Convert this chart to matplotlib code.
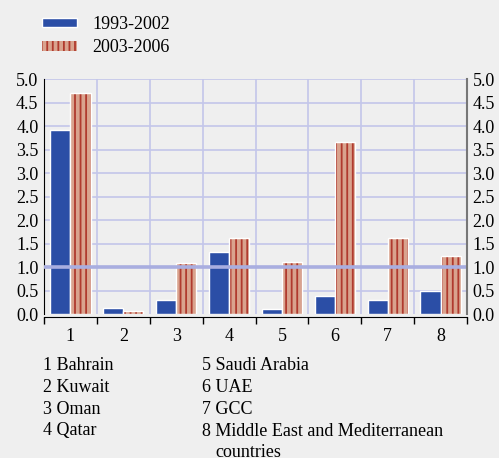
import numpy as np
import matplotlib.pyplot as plt
from matplotlib.patches import Patch

plt.rcParams['font.family'] = ['Liberation Serif', 'DejaVu Serif']
plt.rcParams['hatch.linewidth'] = 1.3

## data
cats = ["1", "2", "3", "4", "5", "6", "7", "8"]
names = ["Bahrain", "Kuwait", "Oman", "Qatar", "Saudi Arabia", "UAE", "GCC",
         "Middle East and Mediterranean\ncountries"]
s1993 = [3.92, 0.12, 0.30, 1.32, 0.11, 0.38, 0.30, 0.50]
s2003 = [4.71, 0.06, 1.08, 1.61, 1.10, 3.65, 1.62, 1.24]
yticks = [0.0, 0.5, 1.0, 1.5, 2.0, 2.5, 3.0, 3.5, 4.0, 4.5, 5.0]

bg = "#efefef"
blue = "#2b4ea6"
red_fill = "#d9a38e"
red_line = "#b03a2e"
grid_c = "#c3c6ea"
fs = 13

fig = plt.figure(figsize=(4.99, 4.58), dpi=100, facecolor=bg)
ax = fig.add_axes([0.0882, 0.3144, 0.8477, 0.5131], facecolor=bg)

x = np.arange(len(cats))
w = 0.38
ax.bar(x - w/2, s1993, w, color=blue, edgecolor="white", lw=1, zorder=3)
ax.bar(x + w/2, s2003, w, color=red_fill, edgecolor=red_line, lw=0, hatch="|||",
       zorder=3)
ax.bar(x + w/2, s2003, w, color="none", edgecolor="white", lw=1, zorder=4)

ax.set_xlim(-0.5, len(cats) - 0.5)
ax.set_ylim(0, 5.0)

# grid
for yv in yticks:
    if yv == 1.0:
        ax.axhline(yv, color="#a9aee0", lw=2.6, zorder=5)
    elif yv > 0:
        ax.axhline(yv, color=grid_c, lw=1.2, zorder=1)
for b in np.arange(0.5, len(cats) - 0.5, 1):
    ax.axvline(b, color=grid_c, lw=1.2, zorder=1)

ax.set_yticks(yticks)
ax.set_yticklabels(["%.1f" % v for v in yticks])
ax.set_xticks(x)
ax.set_xticklabels(cats)
ax.set_xticks(np.arange(-0.5, len(cats), 1), minor=True)
ax.tick_params(axis="x", which="major", length=0, pad=8, labelsize=fs)
ax.tick_params(axis="x", which="minor", length=5, width=1, color="black", direction="out")
ax.tick_params(axis="y", length=0, pad=4, labelsize=fs)

for s in ["top", "right"]:
    ax.spines[s].set_visible(False)
ax.spines["left"].set_color("black")
ax.spines["bottom"].set_color("black")
ax.spines["bottom"].set_position(("outward", 2))

ax2 = ax.twinx()
ax2.set_ylim(0, 5.0)
ax2.set_yticks(yticks)
ax2.set_yticklabels(["%.1f" % v for v in yticks])
ax2.tick_params(axis="y", length=0, pad=4, labelsize=fs)
for s in ["top", "left", "bottom"]:
    ax2.spines[s].set_visible(False)
ax2.spines["right"].set_color("#777777")
ax2.spines["right"].set_linewidth(1.5)

# legend
handles = [Patch(facecolor=blue, edgecolor="white", lw=1),
           Patch(facecolor=red_fill, edgecolor=red_line, hatch="|||", lw=0)]
fig.legend(handles, ["1993-2002", "2003-2006"], loc="upper left",
           bbox_to_anchor=(0.058, 0.993), frameon=False, fontsize=fs,
           handlelength=1.95, handleheight=0.45, handletextpad=0.85,
           labelspacing=0.35, borderaxespad=0.3)

# key below chart
ys = [366, 388, 409, 431]
for i, n in enumerate(names):
    xx = 43 if i < 4 else 202
    yy = ys[i % 4]
    fig.text(xx / 499, 1 - yy / 458, "%s %s" % (cats[i], n.split("\n")[0]),
             fontsize=fs, va="center", ha="left")
    if "\n" in n:
        fig.text((xx + 13) / 499, 1 - (yy + 21.5) / 458, n.split("\n")[1],
                 fontsize=fs, va="center", ha="left")

fig.savefig("out.png", dpi=100, facecolor=bg)
